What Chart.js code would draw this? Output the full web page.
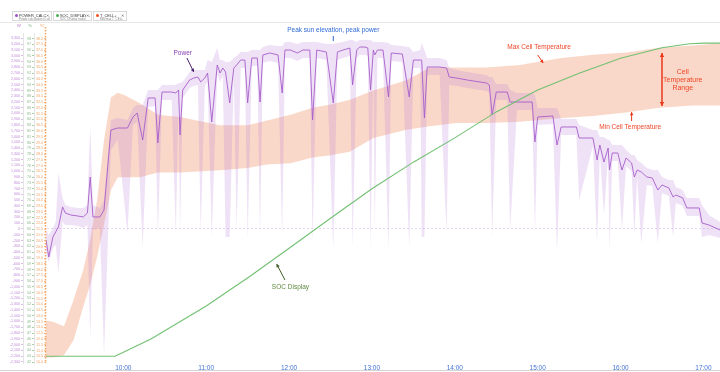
<!DOCTYPE html>
<html>
<head>
<meta charset="utf-8">
<script src="https://cdn.jsdelivr.net/npm/chart.js@4.4.0/dist/chart.umd.min.js"></script>
<style>
  html, body { margin: 0; padding: 0; background: #fff; }
  #wrap { position: relative; width: 720px; height: 372px; overflow: hidden; font-family: "Liberation Sans", Arial, sans-serif; }
  #chart { position: absolute; left: 0; top: 0; }
  #hdr { position: absolute; left: 0; top: 0; width: 720px; height: 22px; border-bottom: 1px solid #e8e8e8; }
  .chip { position: absolute; top: 11px; height: 10px; border: 1px solid #d9d9d9; box-sizing: border-box; background: #fff; overflow: hidden; }
  .chip i { position: absolute; left: 2px; top: 2px; width: 3px; height: 3px; border-radius: 50%; }
  .chip b { position: absolute; left: 6px; top: 0.5px; font-size: 3.9px; line-height: 5px; font-weight: normal; color: #333; white-space: nowrap; }
  .chip span { position: absolute; left: 6px; top: 5px; font-size: 3px; line-height: 4px; color: #8a8a8a; white-space: nowrap; }
  .chip em { position: absolute; right: 2px; top: 0.5px; font-size: 4px; line-height: 5px; font-style: normal; color: #666; background: #fff; }
  #base { position: absolute; left: 0; top: 370px; width: 720px; border-top: 1px solid #d4d4d4; }
</style>
</head>
<body>
<div id="wrap">
  <canvas id="chart" width="720" height="372"></canvas>
  <div id="hdr">
    <div class="chip" style="left:12px;width:40px"><i style="background:#a24fc4"></i><b>POWER_CALC 1</b><span>Power calculation (CW)</span><em>✕</em></div>
    <div class="chip" style="left:53px;width:39px"><i style="background:#4caf50"></i><b>SOC_DISPLAY 1</b><span>SOC Display (ratio)</span><em>✕</em></div>
    <div class="chip" style="left:93px;width:34px"><i style="background:#f4511e"></i><b>T_CELL+</b><span>Min/max T_CELL</span><em>✕</em></div>
  </div>
  <div id="base"></div>
</div>
<script>
// ---- hour ticks on the time axis ----
const hourTicks = ["10:00", "11:00", "12:00", "13:00", "14:00", "15:00", "16:00", "17:00"];

// ---- pack power (W): average with min / max envelope ----
const powerTimes = [
  "9:04","9:06","9:09","9:11","9:13","9:16","9:18","9:22","9:27","9:31",
  "9:34","9:36","9:38","9:43","9:46","9:51","9:56","10:03","10:07","10:10",
  "10:14","10:18","10:23","10:25","10:28","10:35","10:38","10:40","10:41","10:43",
  "10:48","10:51","10:54","10:56","10:59","11:01","11:04","11:08","11:10","11:12",
  "11:14","11:17","11:20","11:22","11:25","11:28","11:30","11:33","11:37","11:39",
  "11:41","11:46","11:52","11:55","11:57","12:01","12:06","12:10","12:15","12:17",
  "12:20","12:27","12:32","12:35","12:39","12:44","12:46","12:49","12:51","12:55",
  "12:57","12:59","13:01","13:02","13:04","13:08","13:12","13:14","13:22","13:27",
  "13:30","13:35","13:36","13:38","13:40","13:49","13:54","13:56","14:01","14:09",
  "14:23","14:25","14:27","14:30","14:38","14:40","14:45","14:56","14:58","15:00",
  "15:11","15:14","15:17","15:28","15:30","15:40","15:43","15:45","15:48","15:51",
  "15:52","15:54","15:58","16:01","16:04","16:08","16:10","16:12","16:15","16:19",
  "16:23","16:27","16:30","16:35","16:38","16:40","16:45","16:48","16:57","16:59","17:04","17:12"
];
const powerAvg = [
  -190,-485,-138,-52,35,381,277,242,225,208,
  277,900,208,208,329,1714,1748,1748,1939,2008,
  1541,2268,2268,1489,2371,2371,2354,2406,1627,2406,
  2579,2614,2631,2545,2614,2700,1852,2839,2700,2787,
  2718,2181,2787,2839,2925,2925,2181,2960,2960,2198,
  3012,3047,3012,2354,3098,3098,3047,3098,3098,1887,
  3098,3064,2181,3064,3098,3133,2493,3098,3150,3150,
  3133,2406,3098,3012,3098,3098,2285,3047,3029,2285,
  2925,2925,2925,1921,2804,2804,2787,2631,2614,2579,
  2527,2493,1973,2371,2371,2198,2198,2198,1506,1939,
  1956,1454,1766,1766,1575,1575,1194,1454,1160,1402,
  1021,1316,1316,1021,1229,1142,900,1021,987,900,
  883,675,762,710,554,589,537,364,364,104,69,-17
];
const powerMin = [
  -415,-571,-329,-277,-762,121,69,69,52,17,
  69,-1921,-17,17,-2181,1368,1541,-69,1800,1852,
  -312,2112,2129,-104,2233,2233,-104,2268,-69,2268,
  2441,2475,2493,-69,2475,2545,-138,2683,2545,2648,
  -138,-138,2648,-17,2787,2787,-190,2822,2822,-138,
  2873,2908,2873,-138,2960,2960,2908,2960,2960,-242,
  2960,2925,-364,2925,2960,2995,-312,2960,3012,3012,
  2995,-364,2960,-17,2960,2960,-364,2908,2891,-329,
  2787,2787,-138,-138,2666,2666,-69,2493,2475,2441,
  2389,2354,-138,2233,2233,-17,2060,2060,-69,1800,
  1818,-398,1627,1627,502,1437,-242,1316,242,1264,
  -364,1177,1177,-17,1091,1004,-104,883,-242,762,
  744,-242,623,571,-138,450,398,225,225,-138,-104,-156
];
const powerMax = [
  -17,-104,17,121,969,537,415,381,364,364,
  415,1800,415,364,502,1887,1921,1887,2095,2146,
  2146,2406,2406,2406,2493,2493,2493,2527,2527,2545,
  2718,2752,2752,2752,2752,2925,2891,3133,2925,2925,
  2891,2891,2960,2995,3064,3064,3064,3098,3098,3098,
  3150,3185,3168,3168,3237,3237,3202,3237,3237,3237,
  3237,3202,3202,3220,3237,3272,3272,3237,3272,3272,
  3272,3272,3237,3237,3237,3237,3220,3185,3168,3150,
  3064,3098,3220,3098,2960,2960,2925,2787,2752,2718,
  2666,2631,2631,2510,2510,2406,2354,2354,2320,2095,
  2095,2095,1904,1904,1800,1714,1714,1593,1593,1541,
  1541,1454,1454,1454,1367,1281,1281,1194,1142,1056,
  1021,1021,900,848,848,727,675,537,537,415,242,121
];

// ---- state of charge shown on the display (%) ----
const socTimes = ["9:04","9:54","10:00","10:20","11:00","11:32","12:00","12:30","13:00","13:30",
                  "14:00","14:30","15:00","15:30","16:00","16:30","16:50","17:00","17:12"];
const socValues = [43.0,43.0,43.7,46.0,51.7,56.9,61.7,66.9,72.0,76.6,
                   80.8,85.3,89.1,92.0,94.6,96.4,97.1,97.2,97.2];

// ---- cell temperature range (°C) ----
const tempTimes = ["9:04","9:09","9:17","9:24","9:31","9:36","9:41","9:46","9:51","9:56",
                   "10:01","10:12","10:25","10:41","11:10","11:30","11:44","12:01","12:17","12:30",
                   "12:44","13:01","13:25","13:42","14:01","14:23","14:47","15:16","15:40","16:04",
                   "16:28","16:52","17:12"];
const tempMax = [13.6,13.5,13.1,15.4,18.0,20.6,24.0,29.2,32.9,33.3,
                 33.1,32.4,31.4,31.2,30.5,30.5,30.9,31.4,32.0,32.3,
                 32.7,33.5,34.4,35.5,35.5,35.5,35.7,36.3,36.6,36.8,
                 37.2,37.4,37.6];
const tempMin = [10.4,10.4,10.6,11.9,14.8,16.7,19.1,21.9,24.9,26.0,
                 26.0,26.0,26.4,26.4,26.6,26.8,27.1,27.2,27.7,27.9,
                 28.2,29.4,30.1,30.4,30.7,30.7,30.8,31.1,31.3,31.6,
                 32.0,32.2,32.2];

const FONT = "'Liberation Sans', Arial, sans-serif";
const toMin = s => { const [h, m] = s.split(':').map(Number); return h * 60 + m; };
const fmtTime = v => Math.floor(v / 60) + ':' + String(Math.round(v % 60)).padStart(2, '0');
const pts = (times, vals) => times.map((t, i) => ({ x: toMin(t), y: vals[i] }));

// text notes and pointer arrows, placed in data coordinates
const notes = [
  { lines: ['Power'], at: '10:43', axis: 'yPow', v: 3047, color: '#8b40b4', size: 6.5 },
  { lines: ['Peak sun elevation, peak power'], at: '12:32', axis: 'yPow', v: 3445, color: '#2f6ad6', size: 6.5 },
  { lines: ['Max Cell Temperature'], at: '15:01', axis: 'yTemp', v: 37.27, color: '#ee4526', size: 6.5 },
  { lines: ['Min Cell Temperature'], at: '16:07', axis: 'yTemp', v: 30.34, color: '#ee4526', size: 6.5 },
  { lines: ['Cell', 'Temperature', 'Range'], at: '16:45', axis: 'yTemp', v: 35.1, color: '#ee4526', size: 7, lead: 8 },
  { lines: ['SOC Display'], at: '12:01', axis: 'ySoc', v: 54.99, color: '#5e8a3e', size: 6.5 }
];
const pointers = [
  { from: ['10:46', 2960], to: ['10:51', 2718], axis: 'yPow', color: '#4d1f70', width: 1, heads: ['end'] },
  { from: ['12:32', 3341], to: ['12:32', 3254], axis: 'yPow', color: '#2f6ad6', width: 1, heads: [] },
  { from: ['15:00', 36.58], to: ['15:04', 35.88], axis: 'yTemp', color: '#e8391c', width: 1, heads: ['end'] },
  { from: ['16:08', 30.86], to: ['16:08', 31.64], axis: 'yTemp', color: '#e8391c', width: 1, heads: ['end'] },
  { from: ['16:30', 36.75], to: ['16:30', 32.16], axis: 'yTemp', color: '#e8391c', width: 1.5, heads: ['start', 'end'] },
  { from: ['11:57', 56.2], to: ['11:51', 58.97], axis: 'ySoc', color: '#3f5f25', width: 1, heads: ['end'] }
];

function drawHead(ctx, xa, ya, xb, yb, size) {
  const ang = Math.atan2(yb - ya, xb - xa);
  const L = size * 1.8, W = size;
  ctx.beginPath();
  ctx.moveTo(xb, yb);
  ctx.lineTo(xb - L * Math.cos(ang) + W * Math.sin(ang), yb - L * Math.sin(ang) - W * Math.cos(ang));
  ctx.lineTo(xb - L * Math.cos(ang) - W * Math.sin(ang), yb - L * Math.sin(ang) + W * Math.cos(ang));
  ctx.closePath();
  ctx.fill();
}

const notesPlugin = {
  id: 'notes',
  afterDraw(chart) {
    const { ctx, scales, chartArea } = chart;
    const px = (t, v, axis) => [scales.x.getPixelForValue(toMin(t)), scales[axis].getPixelForValue(v)];
    ctx.save();
    // dashed edge of the temperature axis
    const tr = scales.yTemp.right - 0.5;
    ctx.strokeStyle = '#f6a25e';
    ctx.lineWidth = 1.5;
    ctx.setLineDash([1.6, 1.4]);
    ctx.beginPath(); ctx.moveTo(tr, chartArea.top - 6); ctx.lineTo(tr, chartArea.bottom); ctx.stroke();
    ctx.setLineDash([]);
    // small unit marks above each value axis
    ctx.font = '4px ' + FONT;
    ctx.textAlign = 'center';
    ctx.textBaseline = 'middle';
    [['yPow', 'W', '#b27ad3'], ['ySoc', '%', '#6fb36f'], ['yTemp', '°C', '#f08a3c']].forEach(([id, t, c]) => {
      const s = scales[id];
      ctx.fillStyle = c;
      ctx.fillText(t, s.right - 4, 26);
    });
    // notes
    notes.forEach(n => {
      const [x, y] = px(n.at, n.v, n.axis);
      ctx.font = n.size + 'px ' + FONT;
      ctx.fillStyle = n.color;
      n.lines.forEach((ln, i) => ctx.fillText(ln, x, y + i * (n.lead || 0)));
    });
    pointers.forEach(p => {
      const [x1, y1] = px(p.from[0], p.from[1], p.axis);
      const [x2, y2] = px(p.to[0], p.to[1], p.axis);
      ctx.strokeStyle = p.color;
      ctx.fillStyle = p.color;
      ctx.lineWidth = p.width;
      ctx.beginPath(); ctx.moveTo(x1, y1); ctx.lineTo(x2, y2); ctx.stroke();
      const hs = p.width > 1 ? 2.2 : 1.8;
      if (p.heads.includes('end')) drawHead(ctx, x1, y1, x2, y2, hs);
      if (p.heads.includes('start')) drawHead(ctx, x2, y2, x1, y1, hs);
    });
    ctx.restore();
  }
};

const hidden = 'rgba(0,0,0,0)';
const tickFont = { size: 3.6, family: FONT };

new Chart(document.getElementById('chart'), {
  type: 'line',
  data: {
    datasets: [
      { label: 'SOC display', data: pts(socTimes, socValues), yAxisID: 'ySoc',
        borderColor: '#72c072', borderWidth: 1.1, pointRadius: 0, fill: false, order: 0 },
      { label: 'Power', data: pts(powerTimes, powerAvg), yAxisID: 'yPow',
        borderColor: '#a75ec9', borderWidth: 0.9, pointRadius: 0, fill: false, order: 1 },
      { label: 'Power max', data: pts(powerTimes, powerMax), yAxisID: 'yPow',
        borderColor: hidden, borderWidth: 0, pointRadius: 0, backgroundColor: 'rgba(176,112,216,0.2)', fill: 3, order: 2 },
      { label: 'Power min', data: pts(powerTimes, powerMin), yAxisID: 'yPow',
        borderColor: hidden, borderWidth: 0, pointRadius: 0, fill: false, order: 2 },
      { label: 'Max cell temperature', data: pts(tempTimes, tempMax), yAxisID: 'yTemp',
        borderColor: hidden, borderWidth: 0, pointRadius: 0, backgroundColor: 'rgba(243,152,112,0.38)', fill: 5, order: 3 },
      { label: 'Min cell temperature', data: pts(tempTimes, tempMin), yAxisID: 'yTemp',
        borderColor: hidden, borderWidth: 0, pointRadius: 0, fill: false, order: 3 }
    ]
  },
  options: {
    responsive: false,
    animation: false,
    maintainAspectRatio: false,
    layout: { padding: { top: 33, left: 0, right: 0, bottom: 0 } },
    plugins: { legend: { display: false }, tooltip: { enabled: false } },
    elements: { line: { tension: 0 } },
    scales: {
      x: {
        type: 'linear', min: 544, max: 1032,
        afterBuildTicks: s => { s.ticks = hourTicks.map(t => ({ value: toMin(t) })); },
        ticks: { callback: v => fmtTime(v), color: '#4474d8', font: { size: 6.5, family: FONT }, padding: 1, maxRotation: 0, autoSkip: false },
        grid: { display: false, drawTicks: false },
        border: { display: false },
        afterFit: s => { s.height = 9; }
      },
      yPow: {
        type: 'linear', position: 'left', weight: 3, min: -2320, max: 3393,
        ticks: { stepSize: 100, includeBounds: false, autoSkip: false, color: '#c08bdb', font: tickFont, padding: 1,
                 callback: v => v.toLocaleString('en-US') },
        grid: { color: c => (c.tick && c.tick.value === 0) ? 'rgba(205,170,225,0.6)' : hidden,
                tickColor: '#d2aee4', tickLength: 2, lineWidth: 0.8 },
        border: { color: '#e4e4e4', dash: [2, 2] },
        afterFit: s => { s.width = 23; }
      },
      ySoc: {
        type: 'linear', position: 'left', weight: 2, min: 41.83, max: 98.96,
        ticks: { stepSize: 1, includeBounds: false, autoSkip: false, color: '#86b886', font: tickFont, padding: 1 },
        grid: { drawOnChartArea: false, tickColor: '#a6cfa6', tickLength: 2 },
        border: { color: '#e4e4e4' },
        afterFit: s => { s.width = 11; }
      },
      yTemp: {
        type: 'linear', position: 'left', weight: 1, min: 9.92, max: 38.48,
        ticks: { stepSize: 0.5, includeBounds: false, autoSkip: false, color: '#f2a266', font: tickFont, padding: 1,
                 callback: v => v.toFixed(1) },
        grid: { drawOnChartArea: false, tickColor: '#f6bd8e', tickLength: 2 },
        border: { display: false },
        afterFit: s => { s.width = 12; }
      }
    }
  },
  plugins: [notesPlugin]
});
</script>
</body>
</html>
